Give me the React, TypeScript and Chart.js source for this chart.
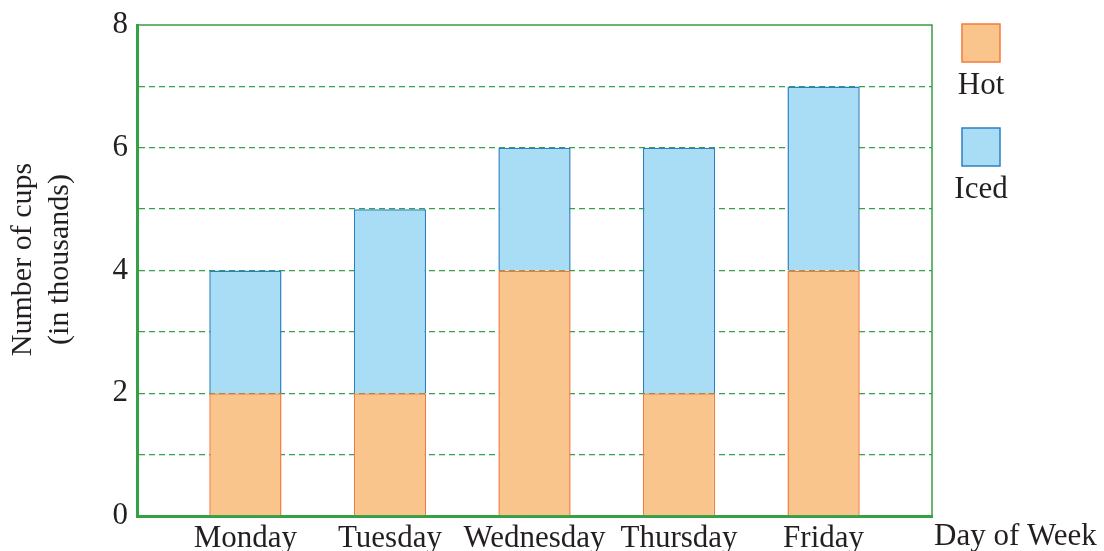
import React, { useEffect, useRef } from "react";
import { Chart, registerables } from "chart.js";
Chart.register(...registerables);

const days = ["Monday", "Tuesday", "Wednesday", "Thursday", "Friday"];
const hotCups = [2, 2, 4, 2, 4];
const icedCups = [2, 3, 2, 4, 3];
const seriesNames = ["Hot", "Iced"];
const xAxisTitle = "Day of Week";
const yAxisTitle = ["Number of cups", "(in thousands)"];

const GREEN = "#36a046";
const TEXT = "#231f20";
const FONT = "Liberation Serif";
const HOT_FILL = "#f9c58c";
const HOT_LINE = "#f47a3c";
const ICED_FILL = "#a9ddf6";
const ICED_LINE = "#2b80c4";

const extrasPlugin = {
  id: "extras",
  afterDraw(chart: any) {
    const { ctx, chartArea } = chart;
    const { left, right, top, bottom } = chartArea;
    ctx.save();
    // top and right frame lines
    ctx.strokeStyle = GREEN;
    ctx.lineWidth = 1.5;
    ctx.beginPath();
    ctx.moveTo(left, top);
    ctx.lineTo(right, top);
    ctx.lineTo(right, bottom);
    ctx.stroke();
    // legend
    const items = [
      { name: seriesNames[0], fill: HOT_FILL, line: HOT_LINE },
      { name: seriesNames[1], fill: ICED_FILL, line: ICED_LINE },
    ];
    const cx = right + 49;
    ctx.font = `31px "${FONT}"`;
    ctx.textAlign = "center";
    ctx.textBaseline = "middle";
    items.forEach((it, i) => {
      const y0 = top - 1 + i * 104;
      ctx.fillStyle = it.fill;
      ctx.fillRect(cx - 19, y0, 38, 38);
      ctx.strokeStyle = it.line;
      ctx.lineWidth = 1.5;
      ctx.strokeRect(cx - 19, y0, 38, 38);
      ctx.fillStyle = TEXT;
      ctx.fillText(it.name, cx, y0 + 62);
    });
    // x axis title
    ctx.textAlign = "left";
    ctx.fillText(xAxisTitle, right + 2, bottom + 21);
    // y axis title (two lines, rotated)
    ctx.font = `30px "${FONT}"`;
    ctx.textAlign = "center";
    ctx.translate(0, (top + bottom) / 2 - 11);
    ctx.rotate(-Math.PI / 2);
    ctx.fillText(yAxisTitle[0], 0, 23);
    ctx.fillText(yAxisTitle[1], 0, 60);
    ctx.restore();
  },
};

export default function App() {
  const ref = useRef<HTMLCanvasElement>(null);
  useEffect(() => {
    document.body.style.margin = "0";
    const chart = new Chart(ref.current!, {
      type: "bar",
      data: {
        datasets: [
          {
            label: seriesNames[0],
            data: hotCups.map((v, i) => ({ x: i, y: v })),
            backgroundColor: HOT_FILL,
            borderColor: HOT_LINE,
            borderWidth: 1.5,
            barPercentage: 0.5,
            categoryPercentage: 1,
          },
          {
            label: seriesNames[1],
            data: icedCups.map((v, i) => ({ x: i, y: v })),
            backgroundColor: ICED_FILL,
            borderColor: ICED_LINE,
            borderWidth: 1.5,
            barPercentage: 0.5,
            categoryPercentage: 1,
          },
        ],
      },
      options: {
        animation: false,
        responsive: false,
        maintainAspectRatio: false,
        layout: { padding: { top: 25, right: 172, left: 0, bottom: 0 } },
        plugins: { legend: { display: false }, tooltip: { enabled: false } },
        scales: {
          x: {
            type: "linear",
            stacked: true,
            offset: false,
            min: -0.75,
            max: 4.75,
            afterBuildTicks: (scale: any) => {
              scale.ticks = days.map((_, i) => ({ value: i }));
            },
            afterFit: (scale: any) => {
              scale.height = 35;
              scale.paddingLeft = 0;
              scale.paddingRight = 0;
            },
            grid: { display: false, drawTicks: false },
            border: { color: GREEN, width: 3 },
            ticks: {
              autoSkip: false,
              maxRotation: 0,
              padding: 4,
              color: TEXT,
              font: { family: FONT, size: 31 },
              callback: (v: any) => days[v] ?? "",
            },
          },
          y: {
            stacked: true,
            min: 0,
            max: 8,
            afterFit: (scale: any) => {
              scale.width = 137;
              scale.paddingTop = 0;
              scale.paddingBottom = 0;
            },
            grid: {
              drawTicks: false,
              color: (c: any) =>
                c.tick && (c.tick.value === 0 || c.tick.value === 8) ? "rgba(0,0,0,0)" : GREEN,
              lineWidth: 1.3,
            },
            border: { color: GREEN, width: 3, dash: [6, 4] },
            ticks: {
              stepSize: 1,
              padding: 9,
              color: TEXT,
              font: { family: FONT, size: 31 },
              callback: (v: any) => (v % 2 === 0 ? String(v) : ""),
            },
          },
        },
      },
      plugins: [extrasPlugin],
    });
    return () => chart.destroy();
  }, []);
  return (
    <div style={{ width: 1104, height: 551 }}>
      <canvas ref={ref} width={1104} height={551} />
    </div>
  );
}
